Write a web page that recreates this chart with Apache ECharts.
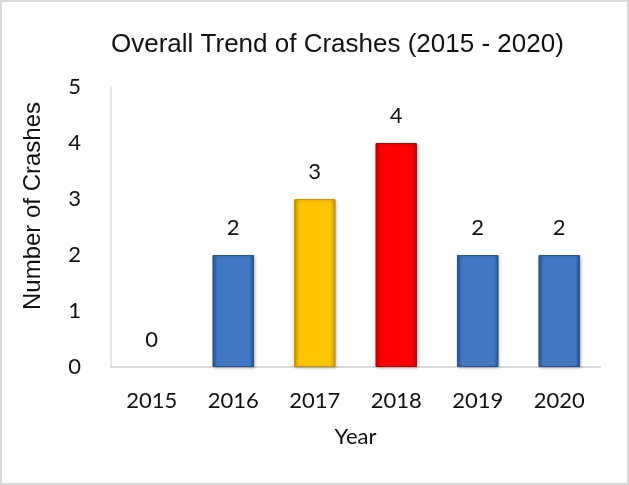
<!DOCTYPE html>
<html>
<head>
<meta charset="utf-8">
<script src="https://cdn.jsdelivr.net/npm/echarts@6/dist/echarts.min.js"></script>
<style>
    html, body { margin: 0; padding: 0; background: #fff; }
    #chart {
        width: 625px;
        height: 481px;
        border: 2px solid #d9d9d9;
    }
</style>
</head>
<body>
<div id="chart"></div>
<script>
// data
var years = ['2015', '2016', '2017', '2018', '2019', '2020'];
var crashes = [0, 2, 3, 4, 2, 2];
var barColors = ['#4178c4', '#4178c4', '#ffc400', '#ff0000', '#4178c4', '#4178c4'];
var edgeColors = ['#2a5391', '#2a5391', '#c99700', '#c00000', '#2a5391', '#2a5391'];

function bevel(i) {
    // darker sides, lighter middle, like the bevelled office bars
    return new echarts.graphic.LinearGradient(0, 0, 1, 0, [
        { offset: 0, color: edgeColors[i] },
        { offset: 0.12, color: barColors[i] },
        { offset: 0.88, color: barColors[i] },
        { offset: 1, color: edgeColors[i] }
    ]);
}

var chart = echarts.init(document.getElementById('chart'));
var option = {
    animation: false,
    title: {
        text: 'Overall Trend of Crashes (2015 - 2020)',
        left: 104,
        top: 25,
        textStyle: {
            fontFamily: 'Liberation Sans',
            fontSize: 26,
            fontWeight: 'normal',
            color: '#111'
        }
    },
    grid: {
        left: 109,
        right: 27,
        top: 85,
        bottom: 116
    },
    xAxis: {
        type: 'category',
        data: years,
        name: 'Year',
        nameLocation: 'middle',
        nameGap: 59,
        nameTextStyle: { fontFamily: 'Lato', fontSize: 22, color: '#111' },
        axisLine: { lineStyle: { color: '#d9d9d9', width: 2 } },
        axisTick: { show: false },
        axisLabel: { fontFamily: 'Lato', fontSize: 22, color: '#111', margin: 23 }
    },
    yAxis: {
        type: 'value',
        min: 0,
        max: 5,
        interval: 1,
        name: 'Number of Crashes',
        nameLocation: 'middle',
        nameGap: 66,
        nameTextStyle: {
            fontFamily: 'Liberation Sans',
            fontSize: 24,
            color: '#111',
            padding: [0, 0, 0, 42]
        },
        splitLine: { show: false },
        axisLine: { show: true, lineStyle: { color: '#ece8e0', width: 2 } },
        axisTick: { show: false },
        axisLabel: { fontFamily: 'Lato', fontSize: 22, color: '#111', margin: 30 }
    },
    series: [
        {
            type: 'bar',
            barWidth: '51%',
            data: crashes.map(function (v, i) {
                return {
                    value: v,
                    itemStyle: v === 0 ? { color: 'rgba(0,0,0,0)' } : {
                        color: bevel(i),
                        borderColor: edgeColors[i],
                        borderWidth: 1,
                        shadowColor: 'rgba(0,0,0,0.25)',
                        shadowBlur: 3,
                        shadowOffsetX: 1,
                        shadowOffsetY: 1
                    }
                };
            }),
            label: {
                show: true,
                position: 'top',
                distance: 16,
                fontFamily: 'Lato',
                fontSize: 22,
                color: '#111'
            }
        }
    ]
};
chart.setOption(option);
</script>
</body>
</html>
